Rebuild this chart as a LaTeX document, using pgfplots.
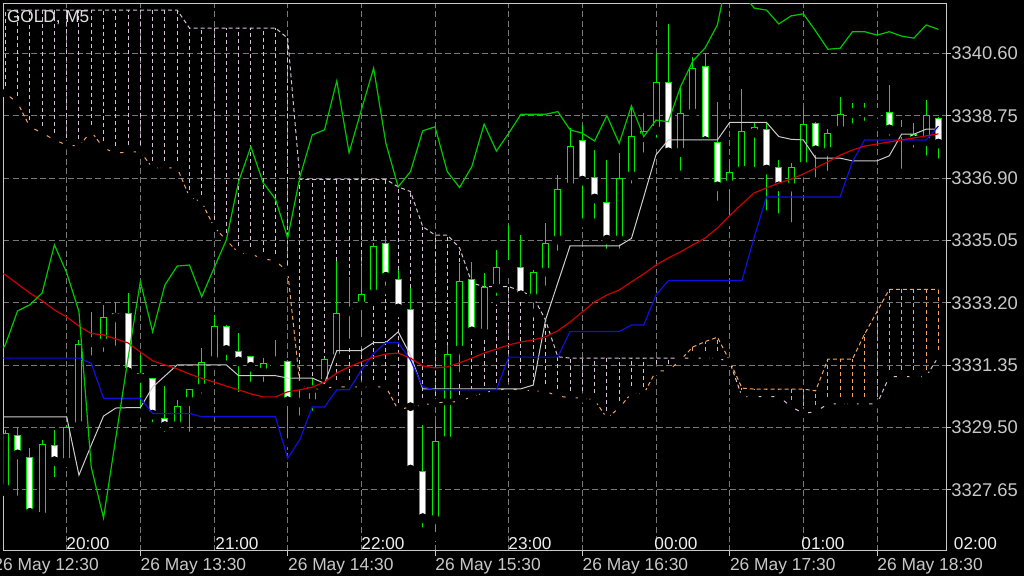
\documentclass[border=0pt]{standalone}
\usepackage{fontspec}
\setmainfont{Liberation Sans}
\usepackage{pgfplots}
\usepackage{pgfplotstable}
\pgfplotsset{compat=1.18}

\definecolor{candle}{RGB}{0,235,0}
\definecolor{chikou}{RGB}{0,200,0}
\definecolor{maline}{RGB}{205,0,0}
\definecolor{kijun}{RGB}{15,15,225}
\definecolor{tenkan}{RGB}{205,205,205}
\definecolor{spana}{RGB}{244,164,96}
\definecolor{spanb}{RGB}{216,191,216}
\definecolor{gridc}{RGB}{120,120,120}
\definecolor{framec}{RGB}{200,200,200}

% GOLD M5 candles closing up: bar index, open, high, low, close
\pgfplotstableread{
x o h l c
0 3327.67 3329.43 3327.59 3329.35
3 3326.86 3329.13 3326.74 3329.01
5 3328.47 3329.58 3328.46 3329.53
6 3329.55 3332.10 3329.49 3331.98
7 3332.02 3332.93 3331.51 3332.04
8 3332.01 3333.14 3331.62 3332.78
9 3332.75 3333.23 3331.80 3332.90
14 3329.55 3330.32 3329.43 3330.15
15 3330.27 3330.65 3329.25 3330.64
16 3330.67 3331.86 3330.38 3331.45
17 3331.48 3332.84 3331.42 3332.52
21 3331.14 3331.56 3330.73 3331.43
22 3331.45 3332.10 3331.33 3331.50
24 3330.23 3330.62 3329.73 3330.25
25 3330.22 3330.97 3329.87 3330.67
26 3330.81 3331.56 3330.42 3331.53
27 3331.56 3334.45 3331.55 3332.91
28 3332.93 3333.98 3332.01 3333.06
29 3333.11 3334.32 3332.05 3333.45
30 3333.46 3334.98 3333.28 3334.89
35 3326.76 3329.68 3326.27 3329.10
36 3329.11 3331.95 3329.10 3331.67
37 3331.80 3334.38 3331.01 3333.86
39 3332.30 3334.09 3332.25 3333.66
40 3333.63 3334.77 3333.28 3334.27
41 3334.31 3335.51 3334.09 3334.33
43 3333.34 3334.17 3332.90 3334.11
44 3334.11 3335.57 3333.58 3334.97
45 3335.06 3336.99 3334.62 3336.58
46 3336.63 3338.39 3336.50 3337.86
50 3335.06 3337.64 3334.68 3336.89
51 3336.96 3339.07 3336.61 3338.16
52 3338.10 3338.83 3337.53 3338.30
53 3338.31 3340.61 3337.97 3339.76
55 3337.66 3339.60 3336.99 3338.82
56 3338.82 3340.50 3338.62 3340.16
59 3336.70 3337.39 3335.61 3337.09
60 3337.12 3339.53 3337.04 3338.30
61 3338.23 3338.53 3337.09 3338.41
64 3336.63 3337.35 3335.46 3337.22
65 3337.24 3339.02 3337.05 3338.50
67 3337.68 3338.36 3336.99 3338.23
68 3338.31 3339.31 3338.13 3338.80
69 3338.81 3339.13 3338.39 3338.83
70 3338.83 3339.13 3338.47 3338.85
71 3338.82 3339.13 3338.53 3338.88
75 3337.98 3339.22 3337.44 3338.76
}\bull

% candles closing down
\pgfplotstableread{
x o h l c
1 3329.28 3329.53 3327.35 3328.69
2 3328.64 3328.90 3326.93 3326.96
4 3328.98 3329.43 3327.90 3328.49
10 3332.90 3333.49 3330.97 3331.13
11 3331.13 3331.65 3329.93 3330.96
12 3330.96 3330.97 3329.53 3329.87
13 3329.79 3330.73 3329.25 3329.53
18 3332.52 3332.53 3331.36 3331.79
19 3331.77 3332.31 3330.42 3331.45
20 3331.62 3331.63 3330.73 3331.29
23 3331.48 3331.49 3329.05 3330.27
31 3334.97 3335.15 3333.58 3333.96
32 3333.90 3334.17 3332.90 3333.02
33 3333.02 3333.64 3328.09 3328.24
34 3328.21 3329.58 3326.41 3326.80
38 3333.90 3334.42 3332.25 3332.34
42 3334.27 3335.21 3333.40 3333.41
47 3338.03 3338.47 3335.57 3336.81
48 3336.92 3337.73 3335.57 3336.28
49 3336.18 3337.44 3334.68 3335.06
54 3339.76 3341.47 3337.39 3337.65
57 3340.22 3340.61 3337.88 3337.98
58 3337.96 3339.17 3336.10 3336.64
62 3338.35 3338.53 3335.81 3337.14
63 3337.24 3337.44 3335.72 3336.64
66 3338.54 3338.55 3336.79 3337.71
72 3338.85 3339.66 3338.03 3338.33
73 3338.35 3338.62 3337.05 3338.25
74 3338.20 3338.53 3337.68 3338.01
76 3338.69 3338.70 3337.35 3337.91
}\bear

% indicator lines: moving average, tenkan, kijun, chikou, span A, span B
\pgfplotstableread{
x ma ten kij chi sa sb
-1 3334.20 3329.82 3331.56 3331.45 3339.69 3341.88
0 3334.03 3329.82 3331.56 3331.95 3339.42 3341.88
1 3333.76 3329.82 3331.56 3332.96 3339.13 3341.88
2 3333.49 3329.82 3331.56 3333.14 3338.42 3341.88
3 3333.26 3329.82 3331.56 3333.49 3338.24 3341.88
4 3332.99 3329.82 3331.56 3334.92 3338.03 3341.88
5 3332.78 3329.82 3331.56 3334.09 3337.88 3341.88
6 3332.51 3328.09 3331.56 3332.94 3337.85 3341.88
7 3332.29 3328.98 3331.41 3328.33 3338.28 3341.88
8 3332.25 3329.84 3330.37 3326.82 3337.79 3341.88
9 3332.13 3330.08 3330.37 3329.19 3337.64 3341.88
10 3332.01 3330.09 3330.37 3331.56 3337.67 3341.88
11 3331.74 3330.09 3330.37 3333.83 3337.68 3341.88
12 3331.48 3330.70 3329.92 3332.34 3337.20 3341.88
13 3331.36 3331.03 3329.92 3333.73 3337.20 3341.88
14 3331.24 3331.36 3329.92 3334.29 3337.20 3341.88
15 3331.09 3331.36 3329.92 3334.32 3336.34 3341.35
16 3330.96 3331.36 3329.82 3333.38 3336.19 3341.35
17 3330.85 3331.36 3329.82 3334.23 3335.45 3341.35
18 3330.73 3331.36 3329.82 3335.06 3335.06 3341.35
19 3330.62 3331.04 3329.82 3336.79 3334.68 3341.35
20 3330.50 3331.04 3329.82 3337.83 3334.65 3341.35
21 3330.41 3331.04 3329.82 3336.76 3334.50 3341.35
22 3330.41 3331.04 3329.82 3336.28 3334.45 3341.35
23 3330.56 3330.97 3328.59 3335.12 3334.12 3341.05
24 3330.62 3330.97 3329.15 3336.94 3330.76 3336.86
25 3330.70 3330.97 3330.11 3338.18 3330.62 3336.86
26 3330.85 3330.81 3330.11 3338.33 3330.67 3336.86
27 3331.12 3331.78 3330.62 3339.78 3330.71 3336.86
28 3331.30 3331.78 3330.62 3337.65 3330.71 3336.86
29 3331.45 3331.78 3331.21 3338.92 3330.71 3336.86
30 3331.59 3332.02 3331.70 3340.16 3330.71 3336.86
31 3331.68 3332.02 3332.02 3337.93 3330.71 3336.86
32 3331.71 3332.34 3332.02 3336.64 3330.02 3336.64
33 3331.56 3331.65 3331.51 3337.09 3330.12 3336.50
34 3331.33 3330.65 3330.71 3338.30 3330.17 3335.46
35 3331.27 3330.65 3330.62 3338.42 3330.23 3335.21
36 3331.30 3330.65 3330.62 3337.09 3330.26 3335.21
37 3331.42 3330.65 3330.62 3336.62 3330.27 3334.83
38 3331.56 3330.65 3330.62 3337.24 3330.42 3333.79
39 3331.71 3330.65 3330.62 3338.50 3330.53 3333.68
40 3331.83 3330.65 3330.62 3337.70 3330.62 3333.68
41 3331.95 3330.65 3331.59 3338.23 3330.64 3333.68
42 3332.04 3330.65 3331.59 3338.79 3330.62 3333.55
43 3332.10 3330.76 3331.59 3338.79 3330.59 3333.38
44 3332.19 3332.69 3331.59 3338.79 3330.57 3332.69
45 3332.37 3333.79 3331.59 3338.87 3330.44 3331.60
46 3332.63 3334.89 3332.35 3338.33 3330.38 3331.56
47 3332.93 3334.89 3332.35 3338.23 3330.38 3331.56
48 3333.23 3334.89 3332.35 3338.00 3330.32 3331.56
49 3333.43 3334.89 3332.35 3338.75 3329.78 3331.56
50 3333.58 3334.89 3332.35 3337.93 3330.08 3331.56
51 3333.82 3335.11 3332.54 3339.04 3330.52 3331.56
52 3334.06 3336.34 3332.54 3338.13 3330.50 3331.56
53 3334.32 3337.59 3333.43 3338.62 3331.18 3331.56
54 3334.53 3338.03 3333.86 3338.57 3331.18 3331.56
55 3334.71 3338.03 3333.86 3339.61 3331.51 3331.56
56 3334.92 3338.03 3333.86 3340.37 3331.89 3331.56
57 3335.12 3338.03 3333.86 3340.76 3332.05 3331.56
58 3335.42 3338.03 3333.86 3341.44 3332.18 3331.56
59 3335.78 3338.55 3333.86 3343.22 3331.48 3331.45
60 3336.13 3338.55 3333.86 3342.39 3330.67 3330.42
61 3336.46 3338.55 3335.15 3341.94 3330.64 3330.42
62 3336.61 3338.55 3336.34 3341.88 3330.64 3330.42
63 3336.75 3338.13 3336.34 3341.47 3330.64 3330.42
64 3336.87 3338.05 3336.34 3341.71 3330.64 3330.12
65 3337.02 3338.03 3336.34 3341.77 3330.64 3329.92
66 3337.20 3337.49 3336.34 3341.26 3330.59 3329.97
67 3337.38 3337.49 3336.34 3340.72 3331.53 3330.20
68 3337.58 3337.49 3336.34 3340.75 3331.53 3330.20
69 3337.73 3337.41 3337.39 3341.24 3331.53 3330.20
70 3337.85 3337.41 3338.03 3341.24 3332.28 3330.20
71 3337.91 3337.41 3338.03 3341.14 3332.94 3330.20
72 3337.97 3337.56 3338.03 3341.24 3333.60 3331.01
73 3338.03 3338.20 3338.03 3341.11 3333.60 3331.01
74 3338.09 3338.20 3338.03 3341.05 3333.60 3331.01
75 3338.15 3338.35 3338.03 3341.44 3333.60 3331.01
76 3338.21 3338.35 3338.44 3341.31 3333.60 3331.60
}\ichi

\pgfplotsset{
  vbar/.style 2 args={only marks, mark=none, forget plot,
    error bars/.cd, y dir=plus, y explicit, error mark=none,
    error bar style={draw=#1, solid, #2}},
  chart/.style={at={(0pt,0pt)}, anchor=south west,
    scale only axis, width=471.35pt, height=273.85pt,
    xmin=-0.163, xmax=76.62, ymin=3325.84, ymax=3342.083},
}

\begin{document}
\begin{tikzpicture}
\fill[black] (-1.65pt,-12.5pt) rectangle (510.35pt,275.5pt);
\begin{axis}[chart,
    axis line style={framec, line width=0.5pt},
    xtick={11,23,35,47,59,71}, xticklabels={},
    minor xtick={5,17,29,41,53,65},
    ytick={3327.65,3329.50,3331.35,3333.20,3335.05,3336.90,3338.75,3340.60},
    yticklabels={3327.65,3329.50,3331.35,3333.20,3335.05,3336.90,3338.75,3340.60},
    xtick pos=left, ytick pos=right, yticklabel pos=right,
    tick align=outside, major tick length=2.5pt, minor tick length=0pt,
    tick style={framec, line width=0.5pt},
    yticklabel style={font=\fontsize{9.2}{11}\selectfont, text=framec, anchor=west, inner sep=0pt},
    xmajorgrids, xminorgrids, ymajorgrids,
    major grid style={gridc, line width=0.5pt, dash pattern=on 3pt off 1.6pt},
    minor grid style={gridc, line width=0.5pt, dash pattern=on 3pt off 1.6pt},
]
% cloud hatching between span A and span B
\addplot[vbar={spanb}{line width=0.5pt, dash pattern=on 2pt off 1.5pt}]
  table[x=x, y expr={\thisrow{sb}>=\thisrow{sa} ? \thisrow{sa} : nan},
        y error plus expr={\thisrow{sb}-\thisrow{sa}}] {\ichi};
\addplot[vbar={spana}{line width=0.5pt, dash pattern=on 2pt off 1.5pt}]
  table[x=x, y expr={\thisrow{sa}>\thisrow{sb} ? \thisrow{sb} : nan},
        y error plus expr={\thisrow{sa}-\thisrow{sb}}] {\ichi};
\addplot[spana, line width=0.5pt, dash pattern=on 2pt off 1.5pt] table[x=x, y=sa] {\ichi};
\addplot[spanb, line width=0.5pt, dash pattern=on 2pt off 1.5pt] table[x=x, y=sb] {\ichi};

% candles: wicks, lime outline, black or white inside
\addplot[vbar={candle}{line width=0.5pt}]
  table[x=x, y=l, y error plus expr={\thisrow{h}-\thisrow{l}}] {\bull};
\addplot[vbar={candle}{line width=0.5pt}]
  table[x=x, y=l, y error plus expr={\thisrow{h}-\thisrow{l}}] {\bear};
\addplot[vbar={candle}{line width=3.5pt}]
  table[x=x, y=o, y error plus expr={max(\thisrow{c}-\thisrow{o},0.04)}] {\bull};
\addplot[vbar={candle}{line width=3.5pt}]
  table[x=x, y=c, y error plus expr={max(\thisrow{o}-\thisrow{c},0.04)}] {\bear};
\addplot[vbar={black}{line width=2.5pt}]
  table[x=x, y expr={\thisrow{o}+0.03}, y error plus expr={max(\thisrow{c}-\thisrow{o}-0.06,0)}] {\bull};
\addplot[vbar={white}{line width=2.5pt}]
  table[x=x, y expr={\thisrow{c}+0.03}, y error plus expr={max(\thisrow{o}-\thisrow{c}-0.06,0)}] {\bear};
\end{axis}

% indicator lines on top of the candles
\begin{axis}[chart, hide axis]
\addplot[tenkan, line width=0.5pt] table[x=x, y=ten] {\ichi};
\addplot[kijun, line width=0.6pt] table[x=x, y=kij] {\ichi};
\addplot[maline, line width=0.6pt] table[x=x, y=ma] {\ichi};
\addplot[chikou, line width=0.6pt] table[x=x, y=chi] {\ichi};
\end{axis}

\node[anchor=north west, inner sep=0pt, text={rgb,255:red,225;green,225;blue,225},
      font=\fontsize{8.6}{10}\selectfont] at (1.7pt,270.5pt) {GOLD, M5};

\begin{scope}[every node/.style={inner sep=0pt, text={rgb,255:red,238;green,238;blue,238},
      font=\fontsize{8.6}{10}\selectfont}]
\node at (42.35pt,3.5pt) {20:00};
\node at (116.85pt,3.5pt) {21:00};
\node at (189.85pt,3.5pt) {22:00};
\node at (263.35pt,3.5pt) {23:00};
\node at (336.35pt,3.5pt) {00:00};
\node at (409.85pt,3.5pt) {01:00};
\node at (486.1pt,3.5pt) {02:00};
\end{scope}

\begin{scope}[every node/.style={anchor=north west, inner sep=0pt, text=framec,
      font=\fontsize{8.7}{10}\selectfont}]
\node at (-5.14pt,-3.5pt) {26 May 12:30};
\node at (68.52pt,-3.5pt) {26 May 13:30};
\node at (142.19pt,-3.5pt) {26 May 14:30};
\node at (215.85pt,-3.5pt) {26 May 15:30};
\node at (289.5pt,-3.5pt) {26 May 16:30};
\node at (363.17pt,-3.5pt) {26 May 17:30};
\node at (436.83pt,-3.5pt) {26 May 18:30};
\end{scope}

\pgfresetboundingbox
\path[use as bounding box] (-1.65pt,-12.5pt) rectangle (510.35pt,275.5pt);
\end{tikzpicture}
\end{document}
